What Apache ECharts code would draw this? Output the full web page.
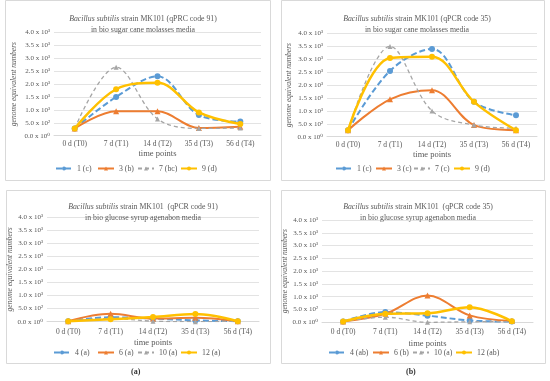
<!DOCTYPE html>
<html>
<head>
<meta charset="utf-8">
<script src="https://cdn.jsdelivr.net/npm/echarts@6/dist/echarts.min.js"></script>
<style>html,body{margin:0;padding:0;background:#fff;}#c{width:550px;height:381px;}</style>
</head>
<body>
<div id="c"></div>
<script>
const categories = ['0 d (T0)', '7 d (T1)', '14 d (T2)', '35 d (T3)', '56 d (T4)'];
const yTicks = [0, 500, 1000, 1500, 2000, 2500, 3000, 3500, 4000];

// Panel A top: qPRC code 91, sugar cane molasses
const tlNames = ['1 (c)', '3 (b)', '7 (bc)', '9 (d)'];
const tl1 = [280, 1500, 2300, 800, 550];
const tl3 = [280, 950, 950, 300, 350];
const tl7 = [280, 2650, 650, 280, 300];
const tl9 = [280, 1800, 2050, 900, 450];

// Panel B top: qPCR code 35, sugar cane molasses
const trNames = ['1 (c)', '3 (c)', '7 (c)', '9 (d)'];
const tr1 = [250, 2550, 3400, 1350, 830];
const tr3 = [250, 1450, 1800, 450, 250];
const tr7 = [250, 3500, 1000, 450, 330];
const tr9 = [250, 3050, 3100, 1350, 250];

// Panel A bottom: qPCR code 91, glucose syrup agenabon
const blNames = ['4 (a)', '6 (a)', '10 (a)', '12 (a)'];
const bl4 = [20, 170, 120, 50, 20];
const bl6 = [20, 300, 120, 150, 20];
const bl10 = [20, 120, 20, 0, 20];
const bl12 = [20, 90, 180, 290, 20];

// Panel B bottom: qPCR code 35, glucose syrup agenabon
const brNames = ['4 (ab)', '6 (b)', '10 (a)', '12 (ab)'];
const br4 = [30, 400, 260, 70, 30];
const br6 = [30, 330, 1050, 270, 50];
const br10 = [30, 200, 0, 20, 30];
const br12 = [30, 330, 350, 590, 40];

const titles = [
  ['{i|Bacillus subtilis} strain MK101 (qPRC code 91)', 'in bio sugar cane molasses media'],
  ['{i|Bacillus subtilis} strain MK101 (qPCR code 35)', 'in bio sugar cane molasses media'],
  ['{i|Bacillus subtilis} strain MK101  (qPCR code 91)', 'in bio glucose syrup agenabon media'],
  ['{i|Bacillus subtilis} strain MK101  (qPCR code 35)', 'in bio glucose syrup agenabon media']
];

const FONT = '"Liberation Serif", "DejaVu Serif", serif';
const TXT = '#595959';
const COLORS = ['#5B9BD5', '#ED7D31', '#A5A5A5', '#FFC000'];

function fmt(v) {
  if (v === 0) return '0.0 x 10\u2070';
  if (v < 1000) return (v / 100).toFixed(1) + ' x 10\u00B2';
  return (v / 1000).toFixed(1) + ' x 10\u00B3';
}

const grids = [
  {left: 54, top: 32.5, width: 207, height: 103.2},
  {left: 327, top: 33.5, width: 210, height: 103.2},
  {left: 47, top: 217, width: 212, height: 104.7},
  {left: 322, top: 220, width: 211, height: 102.3}
];
const yNameGap = [36, 34, 30, 29];
const titlePos = [[138, 9], [412, 9], [138, 197], [413, 197]];
const legendTop = [164.5, 164.5, 348.5, 348.5];
const legendX = [[55, 97, 137, 180], [335, 375, 413, 453], [53, 97, 137, 180], [328, 372, 412, 455]];
const namesArr = [tlNames, trNames, blNames, brNames];
const dataArr = [[tl1, tl3, tl7, tl9], [tr1, tr3, tr7, tr9], [bl4, bl6, bl10, bl12], [br4, br6, br10, br12]];
const xNameGap = [14, 14, 17, 17];
const xLabelMargin = [4, 4, 6, 6];

const styles = [
  {symbol: 'circle', symbolSize: 6, line: {width: 2, type: [6, 3]}},
  {symbol: 'triangle', symbolSize: 6, line: {width: 2, type: 'solid'}},
  {symbol: 'triangle', symbolSize: 5, line: {width: 1.3, type: [4, 3]}},
  {symbol: 'circle', symbolSize: 6, line: {width: 2.5, type: 'solid'}}
];

const option = {
  animation: false,
  backgroundColor: '#fff',
  title: [], grid: [], xAxis: [], yAxis: [], legend: [], series: [],
  graphic: []
};

for (let p = 0; p < 4; p++) {
  option.title.push({
    text: titles[p][0] + '\n' + titles[p][1],
    left: titlePos[p][0], top: titlePos[p][1], textAlign: 'center',
    textStyle: {fontFamily: FONT, fontSize: 7.8, fontWeight: 'normal', color: TXT, lineHeight: 10.5,
      rich: {i: {fontStyle: 'italic', fontFamily: FONT, fontSize: 7.8, color: TXT}}}
  });
  option.grid.push(grids[p]);
  option.xAxis.push({
    type: 'category', gridIndex: p, data: categories, boundaryGap: true,
    name: 'time points', nameLocation: 'middle', nameGap: xNameGap[p],
    nameTextStyle: {fontFamily: FONT, fontSize: 8.5, color: TXT},
    axisLine: {lineStyle: {color: '#D9D9D9'}}, axisTick: {show: false},
    axisLabel: {fontFamily: FONT, fontSize: 7.5, color: TXT, margin: xLabelMargin[p], interval: 0}
  });
  option.yAxis.push({
    type: 'value', gridIndex: p, min: 0, max: 4000, interval: 500,
    name: 'genome equivalent numbers', nameLocation: 'middle', nameGap: yNameGap[p],
    nameTextStyle: {fontFamily: FONT, fontSize: 7.5, fontStyle: 'italic', color: TXT},
    axisLine: {show: false}, axisTick: {show: false},
    splitLine: {lineStyle: {color: '#E3E3E3', width: 1}},
    axisLabel: {fontFamily: FONT, fontSize: 7, color: TXT, margin: 4, formatter: fmt}
  });
  for (let s = 0; s < 4; s++) {
    option.legend.push({
      left: legendX[p][s], top: legendTop[p], orient: 'horizontal', padding: 0,
      itemWidth: 16, itemHeight: 5, itemGap: 0,
      data: [namesArr[p][s]],
      textStyle: {fontFamily: FONT, fontSize: 7.8, color: TXT}
    });
    option.series.push({
      type: 'line', name: namesArr[p][s], xAxisIndex: p, yAxisIndex: p,
      data: dataArr[p][s], smooth: 0.35,
      symbol: styles[s].symbol, symbolSize: styles[s].symbolSize,
      color: COLORS[s],
      itemStyle: {color: COLORS[s]},
      lineStyle: {color: COLORS[s], width: styles[s].line.width, type: styles[s].line.type},
      z: s === 3 ? 3 : 2
    });
  }
}
option.graphic = [
  {type: 'rect', shape: {x: 5.5, y: 0.5, width: 265, height: 180}, style: {fill: 'none', stroke: '#D9D9D9', lineWidth: 1}, silent: true},
  {type: 'rect', shape: {x: 281.5, y: 0.5, width: 263, height: 180}, style: {fill: 'none', stroke: '#D9D9D9', lineWidth: 1}, silent: true},
  {type: 'rect', shape: {x: 6.5, y: 190.5, width: 264, height: 173}, style: {fill: 'none', stroke: '#D9D9D9', lineWidth: 1}, silent: true},
  {type: 'rect', shape: {x: 281.5, y: 190.5, width: 264, height: 173}, style: {fill: 'none', stroke: '#D9D9D9', lineWidth: 1}, silent: true},
  {type: 'text', left: 131, top: 368, style: {text: '(a)', font: 'bold 8px ' + FONT, fill: '#333'}},
  {type: 'text', left: 406, top: 368, style: {text: '(b)', font: 'bold 8px ' + FONT, fill: '#333'}}
];

const chart = echarts.init(document.getElementById('c'), null, {renderer: 'canvas'});
chart.setOption(option);
</script>
</body>
</html>
